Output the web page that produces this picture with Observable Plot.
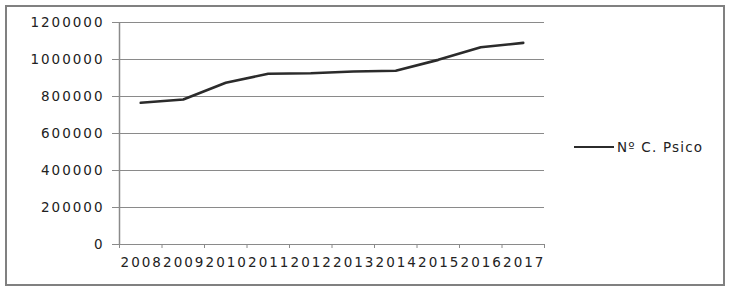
<!DOCTYPE html>
<html>
<head>
<meta charset="utf-8">
<script src="https://cdn.jsdelivr.net/npm/d3@7"></script>
<script src="https://cdn.jsdelivr.net/npm/@observablehq/plot@0.6"></script>
<style>
  html, body { margin: 0; padding: 0; background: #fff; }
  #wrap { position: relative; width: 729px; height: 292px; overflow: hidden; background: #fff; }
  #frame { position: absolute; left: 5px; top: 5px; width: 720px; height: 281px; box-sizing: border-box; border: 2.5px solid #808080; pointer-events: none; }
  #chart { position: absolute; left: 0; top: 0; }
  #legend { position: absolute; left: 574px; top: 139px; height: 16px; display: flex; align-items: center;
            font-family: "DejaVu Sans", sans-serif; font-size: 13.5px; letter-spacing: 1.2px; color: #222; }
  #legend .sw { width: 40px; height: 2.5px; background: #2b2b2b; margin-right: 3px; }
</style>
</head>
<body>
<div id="wrap">
  <div id="chart"></div>
  <div id="frame"></div>
  <div id="legend"><div class="sw"></div><span id="legtext"></span></div>
</div>
<script>
const years = ["2008","2009","2010","2011","2012","2013","2014","2015","2016","2017"];
const values = [766000, 784000, 874000, 923000, 926000, 935000, 939000, 998000, 1066000, 1090000];
const yTicks = [0, 200000, 400000, 600000, 800000, 1000000, 1200000];
const seriesName = "Nº C. Psico";

const data = years.map((year, i) => ({pos: i + 0.5, year, value: values[i]}));
const bounds = d3.range(years.length + 1);
const centers = years.map((_, i) => i + 0.5);

const chart = Plot.plot({
  width: 729,
  height: 292,
  marginLeft: 119,
  marginRight: 185,
  marginTop: 22,
  marginBottom: 48,
  style: {fontFamily: "DejaVu Sans, sans-serif", fontSize: "13.5px", letterSpacing: "2px", color: "#222", background: "transparent"},
  x: {type: "linear", domain: [0, years.length], label: null},
  y: {domain: [0, 1200000], label: null},
  marks: [
    Plot.gridY(yTicks, {stroke: "#8a8a8a", strokeOpacity: 1, strokeWidth: 1}),
    Plot.axisY(yTicks, {tickSize: 7, tickPadding: 8, stroke: "#8a8a8a", fill: "#222", label: null, tickFormat: d => String(d)}),
    Plot.axisX(bounds, {tickSize: 4, stroke: "#8a8a8a", label: null, tickFormat: () => ""}),
    Plot.axisX(centers, {tickSize: 0, tickPadding: 13, fill: "#222", label: null, dx: 1, tickFormat: v => years[Math.floor(v)]}),
    Plot.ruleX([0], {stroke: "#8a8a8a", strokeWidth: 1.5}),
    Plot.lineY(data, {x: "pos", y: "value", stroke: "#2b2b2b", strokeWidth: 2.6})
  ]
});
document.getElementById("chart").appendChild(chart);
document.getElementById("legtext").textContent = seriesName;
</script>
</body>
</html>
